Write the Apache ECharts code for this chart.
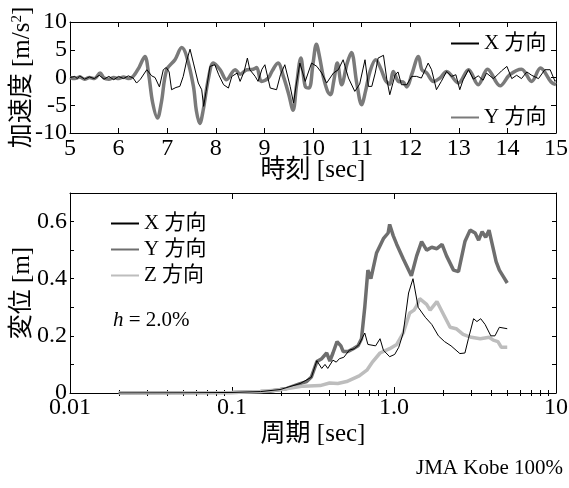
<!DOCTYPE html>
<html>
<head>
<meta charset="utf-8">
<script src="https://cdn.jsdelivr.net/npm/echarts@6/dist/echarts.min.js"></script>
<style>html,body{margin:0;padding:0;background:#fff;}#c{width:569px;height:488px;}</style>
</head>
<body>
<div id="c"></div>
<script>
// ---- Acceleration time history (top) ----
const accelXTime = [5.0,5.1,5.15,5.2,5.3,5.4,5.5,5.6,5.7,5.8,5.9,6.0,6.1,6.2,6.3,6.37,6.45,6.58,6.68,6.75,6.84,6.92,6.98,7.04,7.09,7.18,7.26,7.33,7.40,7.47,7.54,7.64,7.71,7.75,7.80,7.88,7.98,8.06,8.16,8.26,8.33,8.44,8.50,8.58,8.65,8.70,8.81,8.87,8.95,9.01,9.12,9.25,9.33,9.42,9.53,9.60,9.66,9.73,9.84,9.97,10.08,10.18,10.28,10.42,10.52,10.62,10.73,10.86,10.96,11.07,11.14,11.21,11.28,11.34,11.45,11.52,11.58,11.69,11.75,11.82,11.93,12.03,12.13,12.23,12.37,12.44,12.54,12.64,12.75,12.85,12.94,13.02,13.09,13.2,13.3,13.4,13.5,13.57,13.71,13.8,13.88,13.99,14.09,14.19,14.29,14.4,14.5,14.64,14.77,14.88,14.98,15.0];
const accelX     = [0,0.2,-0.2,0.3,-0.3,0.1,-0.2,0.4,-0.3,0.2,-0.4,0.2,-0.2,0.3,-0.1,-1.0,-0.3,1.4,0.3,0,-1.7,1.4,1.8,1.0,-2.2,-1.8,-1.6,0.2,3.0,5.1,2.6,-1.0,-2.2,-5.2,-2.5,2.0,2.3,0.5,-1.3,-1.9,0.2,0.8,-0.7,1.0,3.5,1.4,0.2,-0.7,1.5,2.3,-1.9,-2.2,0.5,2.3,-1.6,-4.6,-1.0,2.6,-0.7,2.6,2.0,0.8,-1.0,0.8,1.4,3.2,-0.1,-2.5,-1.2,3.2,-1.6,-1.6,0.8,3.5,4.0,-0.4,-3.1,0.5,1.0,-1.3,-1.3,0.2,0.2,-0.1,2.6,1.4,-2.2,-0.7,1.1,0.2,0.5,-2.2,-0.4,1.4,-0.3,0.3,-0.5,0.8,-0.2,0.5,1.2,2.0,-0.2,0.4,-0.2,1.0,0.4,-0.2,1.4,1.4,-0.7,-0.5];
const accelYTime = [5.0,5.1,5.2,5.3,5.4,5.5,5.62,5.7,5.8,5.9,6.0,6.1,6.2,6.3,6.42,6.54,6.62,6.7,6.8,6.88,6.99,7.16,7.3,7.4,7.54,7.6,7.67,7.74,7.85,7.95,8.09,8.22,8.4,8.5,8.64,8.77,8.84,8.94,9.08,9.16,9.28,9.39,9.5,9.59,9.66,9.75,9.84,9.92,10.0,10.07,10.14,10.21,10.3,10.36,10.43,10.5,10.59,10.7,10.79,10.9,11.0,11.08,11.17,11.29,11.4,11.49,11.58,11.65,11.76,11.85,11.93,12.03,12.17,12.24,12.34,12.48,12.61,12.75,12.99,13.2,13.4,13.59,13.85,14.05,14.29,14.5,14.68,14.9,15.0];
const accelY     = [0,-0.2,0.1,-0.3,0,-0.2,0.8,-0.1,-0.3,0,-0.2,0.1,-0.2,0.2,1.8,3.8,0.5,-4.5,-7.3,-4.5,1.4,3.2,5.4,3.8,-1.6,-6.0,-8.3,-5.9,-0.1,2.6,1.4,-0.4,1.4,0.6,1.4,1.5,1.8,-0.7,-0.1,1.2,2.6,0.2,-3.0,-5.9,-1.5,3.5,-1.6,-1.9,2.5,6.0,3.5,0.2,-2.5,-3.1,-0.5,2.6,-1.3,2.5,4.5,-1.0,-4.9,-2.5,1.0,3.2,1.5,-0.5,-1.2,1.1,-0.7,-0.8,-1.7,0.5,3.8,1.4,0.8,-0.7,-0.1,1.1,-1.0,1.4,-1.3,1.5,-1.5,0.5,1.5,-0.7,1.7,-0.8,-1.3];

// ---- Displacement response spectra (bottom), h = 2.0% ----
const specXPeriod = [0.02,0.05,0.1,0.15,0.198,0.263,0.309,0.334,0.358,0.375,0.39,0.42,0.44,0.46,0.49,0.53,0.57,0.61,0.66,0.69,0.77,0.82,0.86,0.94,1.01,1.07,1.14,1.23,1.31,1.41,1.56,1.71,1.88,2.05,2.25,2.55,2.74,2.88,3.1,3.25,3.43,3.65,3.96,4.2,4.47,5.0];
const specXDisp   = [0,0.0005,0.002,0.005,0.012,0.033,0.055,0.113,0.086,0.1,0.086,0.115,0.108,0.12,0.125,0.15,0.155,0.17,0.21,0.17,0.165,0.19,0.15,0.127,0.135,0.16,0.21,0.35,0.40,0.30,0.265,0.24,0.20,0.18,0.165,0.138,0.14,0.19,0.26,0.25,0.26,0.24,0.20,0.20,0.23,0.225];
const specYPeriod = [0.02,0.05,0.1,0.15,0.171,0.198,0.218,0.263,0.289,0.309,0.334,0.358,0.384,0.402,0.42,0.445,0.47,0.486,0.52,0.56,0.6,0.63,0.66,0.69,0.72,0.78,0.86,0.92,0.94,0.99,1.04,1.14,1.28,1.38,1.48,1.59,1.71,1.84,1.98,2.11,2.33,2.5,2.74,2.95,3.17,3.33,3.5,3.68,3.86,4.08,4.27,4.47,4.7,5.0];
const specYDisp   = [0,0.0005,0.002,0.005,0.006,0.012,0.016,0.033,0.04,0.056,0.11,0.12,0.14,0.112,0.14,0.18,0.165,0.145,0.145,0.155,0.165,0.19,0.30,0.43,0.40,0.49,0.54,0.56,0.59,0.55,0.52,0.47,0.41,0.48,0.53,0.50,0.51,0.505,0.52,0.48,0.43,0.425,0.53,0.57,0.56,0.535,0.565,0.545,0.57,0.51,0.46,0.43,0.41,0.385];
const specZPeriod = [0.02,0.05,0.1,0.15,0.198,0.275,0.35,0.4,0.45,0.51,0.61,0.68,0.74,0.82,0.94,1.04,1.14,1.25,1.33,1.38,1.44,1.59,1.67,1.84,2.0,2.22,2.42,2.67,3.0,3.41,3.87,4.1,4.38,4.6,5.0];
const specZDisp   = [0,0.0005,0.002,0.005,0.011,0.024,0.026,0.035,0.033,0.04,0.06,0.08,0.11,0.14,0.155,0.17,0.21,0.28,0.29,0.305,0.33,0.31,0.29,0.32,0.28,0.23,0.225,0.205,0.195,0.19,0.195,0.185,0.18,0.16,0.16];

// ---- Tick values ----
const logMajorTicks = [0.01,0.1,1,10];
const logMinorTicks = [0.02,0.03,0.04,0.05,0.06,0.07,0.08,0.09,0.2,0.3,0.4,0.5,0.6,0.7,0.8,0.9,2,3,4,5,6,7,8,9];
const logTickLabels = {'-2':'0.01','-1':'0.1','0':'1.0','1':'10'};

const zip = (a, b) => a.map((v, i) => [v, b[i]]);
const SERIF = '"Liberation Serif","Times New Roman",serif';
const MIX = '"Liberation Serif","Noto Sans CJK JP",serif';
const AX = '#000';

function frameAxis(extra) {
  return Object.assign({
    axisLine: {show: true, onZero: false, lineStyle: {color: AX, width: 1}},
    axisTick: {show: true, inside: true, length: 5, lineStyle: {color: AX}},
    splitLine: {show: false},
    axisLabel: {show: false}
  }, extra);
}

const legendCommon = {
  orient: 'vertical', itemWidth: 28, itemHeight: 14, selectedMode: false,
  itemStyle: {color: 'transparent', borderColor: 'transparent', borderWidth: 0, opacity: 0},
  textStyle: {fontFamily: MIX, fontSize: 21, color: '#000'}
};

const chart = echarts.init(document.getElementById('c'), null, {renderer: 'canvas'});
chart.setOption({
  animation: false,
  backgroundColor: '#fff',
  grid: [
    {left: 70, top: 22, width: 486, height: 111, containLabel: false, outerBoundsMode: 'none'},
    {left: 70, top: 193, width: 486, height: 200, containLabel: false, outerBoundsMode: 'none'}
  ],
  legend: [
    Object.assign({data: ['X 方向 ', 'Y 方向 '], left: 445, top: 28, itemGap: 53}, legendCommon),
    Object.assign({data: ['X 方向', 'Y 方向', 'Z 方向'], left: 105, top: 208, itemGap: 5}, legendCommon)
  ],
  xAxis: [
    frameAxis({type: 'value', gridIndex: 0, position: 'bottom', min: 5, max: 15, interval: 1,
      axisLabel: {show: true, fontFamily: SERIF, fontSize: 24, color: '#000', margin: 4},
      name: '時刻 [sec]', nameLocation: 'middle', nameGap: 25, nameMoveOverlap: false,
      nameTextStyle: {fontFamily: MIX, fontSize: 25, color: '#000'}}),
    frameAxis({type: 'value', gridIndex: 0, position: 'top', min: 5, max: 15, interval: 1}),
    frameAxis({type: 'log', logBase: 10, gridIndex: 1, position: 'bottom', min: 0.01, max: 10,
      axisTick: {show: true, inside: true, length: 6, lineStyle: {color: AX}, customValues: logMajorTicks},
      axisLabel: {show: true, fontFamily: SERIF, fontSize: 24, color: '#000', margin: 3, customValues: logMajorTicks,
        formatter: v => logTickLabels[String(Math.round(Math.log10(v)))]},
      name: '周期 [sec]', nameLocation: 'middle', nameGap: 29, nameMoveOverlap: false,
      nameTextStyle: {fontFamily: MIX, fontSize: 25, color: '#000'}}),
    frameAxis({type: 'log', logBase: 10, gridIndex: 1, position: 'bottom', min: 0.01, max: 10,
      axisLine: {show: false},
      axisTick: {show: true, inside: true, length: 3, lineStyle: {color: AX}, customValues: logMinorTicks}}),
    frameAxis({type: 'log', logBase: 10, gridIndex: 1, position: 'top', min: 0.01, max: 10,
      axisTick: {show: true, inside: true, length: 6, lineStyle: {color: AX}, customValues: logMajorTicks}}),
    frameAxis({type: 'log', logBase: 10, gridIndex: 1, position: 'top', min: 0.01, max: 10,
      axisLine: {show: false},
      axisTick: {show: true, inside: true, length: 3, lineStyle: {color: AX}, customValues: logMinorTicks}})
  ],
  yAxis: [
    frameAxis({type: 'value', gridIndex: 0, position: 'left', min: -10, max: 10, interval: 5,
      axisLabel: {show: true, fontFamily: SERIF, fontSize: 24, color: '#000', margin: 3},
      name: '加速度 [m/s{sup|2}]', nameLocation: 'middle', nameGap: 35, nameRotate: 90, nameMoveOverlap: false,
      nameTextStyle: {fontFamily: MIX, fontSize: 25, color: '#000',
        rich: {sup: {fontFamily: SERIF, fontSize: 15, verticalAlign: 'top', padding: [0, 0, 9, 0]}}}}),
    frameAxis({type: 'value', gridIndex: 0, position: 'right', min: -10, max: 10, interval: 5}),
    frameAxis({type: 'value', gridIndex: 1, position: 'left', min: 0, max: 0.7, interval: 0.1,
      axisTick: {show: true, inside: true, length: 4, lineStyle: {color: AX}},
      axisLabel: {show: true, fontFamily: SERIF, fontSize: 24, color: '#000', margin: 3,
        formatter: v => (Math.round(v * 10) % 2 === 0 ? (v === 0 ? '0' : v.toFixed(1)) : '')},
      name: '変位 [m]', nameLocation: 'middle', nameGap: 35, nameRotate: 90, nameMoveOverlap: false,
      nameTextStyle: {fontFamily: MIX, fontSize: 25, color: '#000'}}),
    frameAxis({type: 'value', gridIndex: 1, position: 'right', min: 0, max: 0.7, interval: 0.1,
      axisTick: {show: true, inside: true, length: 4, lineStyle: {color: AX}}})
  ],
  series: [
    {name: 'Y 方向 ', type: 'line', xAxisIndex: 0, yAxisIndex: 0, data: zip(accelYTime, accelY), symbol: 'none', smooth: 0.35,
      lineStyle: {color: '#7a7a7a', width: 3.5}, itemStyle: {color: '#7a7a7a'}},
    {name: 'X 方向 ', type: 'line', xAxisIndex: 0, yAxisIndex: 0, data: zip(accelXTime, accelX), symbol: 'none',
      lineStyle: {color: '#000', width: 1}, itemStyle: {color: '#000'}},
    {name: 'Y 方向', type: 'line', xAxisIndex: 2, yAxisIndex: 2, data: zip(specYPeriod, specYDisp), symbol: 'none',
      lineStyle: {color: '#6e6e6e', width: 3.5}, itemStyle: {color: '#6e6e6e'}},
    {name: 'Z 方向', type: 'line', xAxisIndex: 2, yAxisIndex: 2, data: zip(specZPeriod, specZDisp), symbol: 'none',
      lineStyle: {color: '#bdbdbd', width: 3.5}, itemStyle: {color: '#bdbdbd'}},
    {name: 'X 方向', type: 'line', xAxisIndex: 2, yAxisIndex: 2, data: zip(specXPeriod, specXDisp), symbol: 'none',
      lineStyle: {color: '#000', width: 1}, itemStyle: {color: '#000'}}
  ],
  graphic: [
    {type: 'text', left: 113, top: 310, style: {text: '{i|h} = 2.0%', fill: '#000', font: '21px ' + SERIF,
      rich: {i: {fontStyle: 'italic', fontFamily: SERIF, fontSize: 21}}}},
    {type: 'text', right: 6, top: 458, style: {text: 'JMA Kobe 100%', fill: '#000', font: '21px ' + SERIF}}
  ]
});
</script>
</body>
</html>
